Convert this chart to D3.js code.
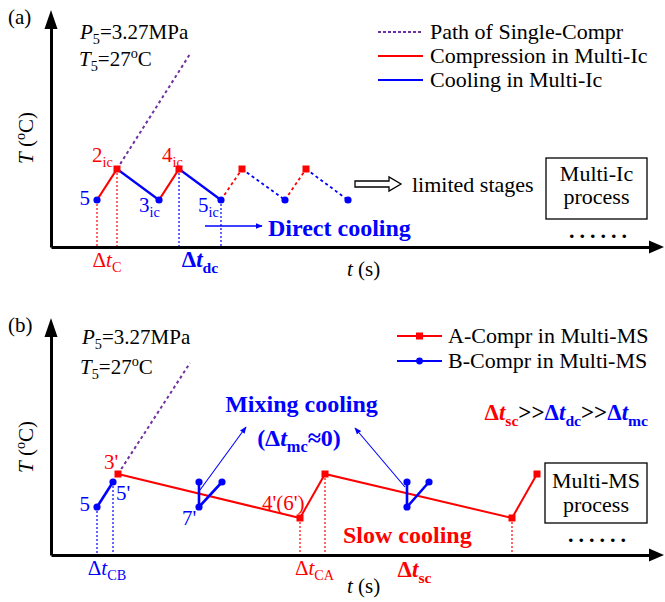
<!DOCTYPE html>
<html>
<head>
<meta charset="utf-8">
<script src="https://cdn.jsdelivr.net/npm/d3@7"></script>
<style>
  body { margin: 0; background: #fff; }
  svg { display: block; }
  svg text, svg tspan { font-family: "Liberation Serif", "Times New Roman", serif; }
</style>
</head>
<body>
<svg id="chart" width="665" height="602"></svg>
<script>
const RED = "#ff0000", BLUE = "#0000ff", PURPLE = "#7030a0";
const FONT = "Liberation Serif";

// ---- Panel (a): multi-stage inter-cooled compression ----
// alternating cooled (valley) and compressed (peak) states
const icTimes = [4.6, 6.6, 10.8, 12.8, 17.0, 19.1, 23.4, 25.5, 29.7];
const icTemps = [4.7, 7.8, 4.7, 7.8, 4.7, 7.8, 4.7, 7.8, 4.7];
const icLabels = ["5", "2", "3", "4", "5", "", "", "", ""];
const icSolidSegments = 4;          // later segments are the repeated (dashed) stages
// single-stage compression continuing from 2ic
const singleTimesA = [6.6, 13.9];
const singleTempsA = [7.8, 19.3];
const legendA = ["Path of Single-Compr", "Compression in Multi-Ic", "Cooling in Multi-Ic"];

// ---- Panel (b): multi-stage mixing (A / B compressors) ----
const msATimes = [6.7, 24.9, 27.4, 46.1, 48.6];
const msATemps = [8.1, 3.7, 8.1, 3.7, 8.1];
const msALabels = ["3'", "4'(6')", "", "", ""];
const msBTimes = [[4.6, 6.2], [14.8, 14.8, 17.1], [35.6, 35.6, 37.8]];
const msBTemps = [[4.8, 7.3], [7.3, 4.8, 7.3], [7.3, 4.8, 7.3]];
const singleTimesB = [6.7, 13.9];
const singleTempsB = [8.1, 19.2];
const legendB = ["A-Compr in Multi-MS", "B-Compr in Multi-MS"];

const svg = d3.select("#chart");

// arrow heads for thin annotation arrows
const defs = svg.append("defs");
defs.append("marker").attr("id", "arrBlue")
  .attr("viewBox", "0 0 10 10").attr("refX", 9).attr("refY", 5)
  .attr("markerWidth", 7).attr("markerHeight", 7).attr("markerUnits", "userSpaceOnUse")
  .attr("orient", "auto")
  .append("path").attr("d", "M0,1 L10,5 L0,9 Z").attr("fill", BLUE);

// rich text helper: parts may be subscript, superscript, italic or coloured
function rich(sel, x, y, parts, o = {}) {
  const fs = o.size || 22;
  const t = sel.append("text").attr("x", x).attr("y", y)
    .attr("font-family", FONT)
    .attr("font-size", fs)
    .attr("fill", o.color || "#000")
    .attr("text-anchor", o.anchor || "start");
  if (o.bold) t.attr("font-weight", "bold");
  if (o.transform) t.attr("transform", o.transform);
  let cur = 0;
  parts.forEach(p => {
    if (typeof p === "string") p = { s: p };
    const off = p.sub ? 0.25 * fs : p.sup ? -0.38 * fs : 0;
    const sp = t.append("tspan").text(p.s);
    if (off - cur !== 0) sp.attr("dy", off - cur);
    cur = off;
    if (p.sub || p.sup) sp.attr("font-size", fs * 0.68);
    if (p.i) sp.attr("font-style", "italic");
    if (p.color) sp.attr("fill", p.color);
  });
  return t;
}

const x = d3.scaleLinear().domain([0, 60]).range([0, 600]);
const y = d3.scaleLinear().domain([0, 22]).range([0, -220]);
const line = d3.line().x(d => x(d[0])).y(d => y(d[1]));
const zip = (ts, vs) => ts.map((t, i) => [t, vs[i]]);

function drawAxes(g) {
  g.append("g").call(d3.axisBottom(x).tickValues([]).tickSizeOuter(0))
    .select(".domain").attr("stroke", "#000").attr("stroke-width", 3);
  g.append("g").call(d3.axisLeft(y).tickValues([]).tickSizeOuter(0))
    .select(".domain").attr("stroke", "#000").attr("stroke-width", 3);
  // arrow tips
  g.append("path").attr("d", `M${x(59.8)},-6.5 L${x(61.3)},0 L${x(59.8)},6.5 Z`).attr("fill", "#000");
  g.append("path").attr("d", `M-6.5,${y(21.8)} L0,${y(23.7)} L6.5,${y(21.8)} Z`).attr("fill", "#000");
}

function square(g, p, color) {
  g.append("rect").attr("x", x(p[0]) - 3.5).attr("y", y(p[1]) - 3.5)
    .attr("width", 7).attr("height", 7).attr("fill", color);
}
function dot(g, p, color) {
  g.append("circle").attr("cx", x(p[0])).attr("cy", y(p[1])).attr("r", 3.6).attr("fill", color);
}
function drop(g, p, color) {
  g.append("line").attr("x1", x(p[0])).attr("x2", x(p[0]))
    .attr("y1", y(p[1])).attr("y2", 0)
    .attr("stroke", color).attr("stroke-width", 1.2).attr("stroke-dasharray", "2,2");
}
function dots(xp, yp) {
  svg.append("text").attr("x", xp).attr("y", yp)
    .attr("font-family", FONT)
    .attr("font-size", 22).attr("font-weight", "bold")
    .attr("letter-spacing", 5).text("......");
}

// ================= Panel (a) =================
const gA = svg.append("g").attr("transform", "translate(51,247)");
const ptsA = zip(icTimes, icTemps);

rich(svg, 8, 24, ["(a)"], { size: 21 });
rich(svg, 80, 38.5, [{ s: "P", i: true }, { s: "5", sub: true }, "=3.27MPa"], { size: 21 });
rich(svg, 79, 66, [{ s: "T", i: true }, { s: "5", sub: true }, "=27", { s: "o", sup: true }, "C"], { size: 21 });
rich(svg, 33, 138, [{ s: "T", i: true }, " (", { s: "o", sup: true }, "C)"],
  { anchor: "middle", transform: "rotate(-90,33,138)", size: 21 });
rich(svg, 347, 276, [{ s: "t", i: true }, " (s)"], { size: 21 });

// drop lines to the time axis
drop(gA, ptsA[0], RED); drop(gA, ptsA[1], RED);
drop(gA, ptsA[3], BLUE); drop(gA, ptsA[4], BLUE);

// single-stage path
gA.append("path").attr("d", line(zip(singleTimesA, singleTempsA)))
  .attr("fill", "none").attr("stroke", PURPLE).attr("stroke-width", 2).attr("stroke-dasharray", "3,3");

// compression (rising, red) and cooling (falling, blue) segments
for (let i = 0; i < ptsA.length - 1; i++) {
  const rising = ptsA[i + 1][1] > ptsA[i][1];
  const dashed = i >= icSolidSegments;
  gA.append("path").attr("d", line([ptsA[i], ptsA[i + 1]]))
    .attr("fill", "none").attr("stroke", rising ? RED : BLUE)
    .attr("stroke-width", dashed ? 1.8 : 2.2)
    .attr("stroke-dasharray", dashed ? "3,3" : null);
}
ptsA.forEach((p, i) => (i % 2 ? square(gA, p, RED) : dot(gA, p, BLUE)));

// state labels
const labOffA = [[-7, 5, "end"], [-25, -7], [-20, 12], [-17, -7], [-23, 12]];
icLabels.forEach((s, i) => {
  if (!s) return;
  const o = labOffA[i];
  const col = i % 2 ? RED : BLUE;
  const parts = i === 0 ? [s] : [s, { s: "ic", sub: true }];
  rich(gA, x(ptsA[i][0]) + o[0], y(ptsA[i][1]) + o[1], parts, { color: col, anchor: o[2] || "start", size: 21 });
});

// interval labels under the axis
rich(gA, (x(ptsA[0][0]) + x(ptsA[1][0])) / 2, 20, ["Δ", { s: "t", i: true }, { s: "C", sub: true }],
  { color: RED, anchor: "middle", size: 21 });
rich(gA, (x(ptsA[3][0]) + x(ptsA[4][0])) / 2, 20, ["Δ", { s: "t", i: true }, { s: "dc", sub: true }],
  { color: BLUE, anchor: "middle", bold: true, size: 23 });

// direct cooling note
gA.append("line").attr("x1", x(15.4)).attr("x2", x(21.1)).attr("y1", -21).attr("y2", -21)
  .attr("stroke", BLUE).attr("stroke-width", 1.4).attr("marker-end", "url(#arrBlue)");
rich(svg, 268, 236, ["Direct cooling"], { color: BLUE, bold: true, size: 24 });

// "limited stages" with hollow arrow
svg.append("path")
  .attr("d", "M355,181 H389 V177 L401,184 L389,191 V187 H355 Z")
  .attr("fill", "#fff").attr("stroke", "#000").attr("stroke-width", 1.3);
rich(svg, 412, 192, ["limited stages"]);

// process box
svg.append("rect").attr("x", 546).attr("y", 158).attr("width", 101).attr("height", 61)
  .attr("fill", "none").attr("stroke", "#000").attr("stroke-width", 1.3);
rich(svg, 596.5, 181, ["Multi-Ic"], { anchor: "middle" });
rich(svg, 596.5, 204, ["process"], { anchor: "middle" });
dots(569, 238);

// legend (a)
const legStyles = [[PURPLE, "3,2", 1.8], [RED, null, 2], [BLUE, null, 2]];
legendA.forEach((s, i) => {
  const ly = 32 + i * 24;
  svg.append("line").attr("x1", 378).attr("x2", 423).attr("y1", ly).attr("y2", ly)
    .attr("stroke", legStyles[i][0]).attr("stroke-width", legStyles[i][2])
    .attr("stroke-dasharray", legStyles[i][1]);
  rich(svg, 430, ly + 6.5, [s]);
});

drawAxes(gA);

// ================= Panel (b) =================
const gB = svg.append("g").attr("transform", "translate(51,555)");
const ptsB = zip(msATimes, msATemps);
const grpB = msBTimes.map((ts, k) => zip(ts, msBTemps[k]));

rich(svg, 8, 332, ["(b)"], { size: 21 });
rich(svg, 82, 344, [{ s: "P", i: true }, { s: "5", sub: true }, "=3.27MPa"], { size: 21 });
rich(svg, 80, 374, [{ s: "T", i: true }, { s: "5", sub: true }, "=27", { s: "o", sup: true }, "C"], { size: 21 });
rich(svg, 33, 447, [{ s: "T", i: true }, " (", { s: "o", sup: true }, "C)"],
  { anchor: "middle", transform: "rotate(-90,33,447)", size: 21 });
rich(svg, 347, 593, [{ s: "t", i: true }, " (s)"], { size: 21 });

drop(gB, grpB[0][0], BLUE); drop(gB, grpB[0][1], BLUE);
drop(gB, ptsB[1], RED); drop(gB, ptsB[2], RED); drop(gB, ptsB[3], RED);

gB.append("path").attr("d", line(zip(singleTimesB, singleTempsB)))
  .attr("fill", "none").attr("stroke", PURPLE).attr("stroke-width", 2).attr("stroke-dasharray", "3,3");

gB.append("path").attr("d", line(ptsB)).attr("fill", "none").attr("stroke", RED).attr("stroke-width", 2);
ptsB.forEach(p => square(gB, p, RED));

grpB.forEach(pts => {
  gB.append("path").attr("d", line(pts)).attr("fill", "none").attr("stroke", BLUE).attr("stroke-width", 2.6);
  pts.forEach(p => dot(gB, p, BLUE));
});

// state labels
rich(gB, x(ptsB[0][0]) - 14, y(ptsB[0][1]) - 5, [msALabels[0]], { color: RED, size: 21 });
rich(gB, x(ptsB[1][0]) - 38, y(ptsB[1][1]) - 8, [msALabels[1]], { color: RED, size: 21 });
rich(gB, x(grpB[0][0][0]) - 7, y(grpB[0][0][1]) + 4, ["5"], { color: BLUE, anchor: "end", size: 21 });
rich(gB, x(grpB[0][1][0]) + 3, y(grpB[0][1][1]) + 18, ["5'"], { color: BLUE, size: 21 });
rich(gB, x(grpB[1][1][0]) - 17, y(grpB[1][1][1]) + 18, ["7'"], { color: BLUE, size: 21 });

// interval labels
rich(gB, (x(grpB[0][0][0]) + x(grpB[0][1][0])) / 2 + 2, 20, ["Δ", { s: "t", i: true }, { s: "CB", sub: true }],
  { color: BLUE, anchor: "middle", size: 21 });
rich(gB, (x(ptsB[1][0]) + x(ptsB[2][0])) / 2 + 2, 20, ["Δ", { s: "t", i: true }, { s: "CA", sub: true }],
  { color: RED, anchor: "middle", size: 21 });
rich(gB, (x(ptsB[2][0]) + x(ptsB[3][0])) / 2 - 4, 22, ["Δ", { s: "t", i: true }, { s: "sc", sub: true }],
  { color: RED, anchor: "middle", bold: true, size: 23 });

// mixing cooling note with arrows to the two mixing events
rich(svg, 301.5, 412, ["Mixing cooling"], { color: BLUE, bold: true, size: 24, anchor: "middle" });
rich(svg, 299, 446, ["(Δ", { s: "t", i: true }, { s: "mc", sub: true }, "≈0)"],
  { color: BLUE, bold: true, size: 24, anchor: "middle" });
gB.append("line").attr("x1", x(14.9)).attr("y1", y(6.5)).attr("x2", x(19.5)).attr("y2", y(12.8))
  .attr("stroke", BLUE).attr("stroke-width", 1.1).attr("marker-end", "url(#arrBlue)");
gB.append("line").attr("x1", x(35.4)).attr("y1", y(6.8)).attr("x2", x(30.4)).attr("y2", y(12.7))
  .attr("stroke", BLUE).attr("stroke-width", 1.1).attr("marker-end", "url(#arrBlue)");

rich(svg, 343, 543, ["Slow cooling"], { color: RED, bold: true, size: 24 });

rich(svg, 648, 420, [
  { s: "Δ", color: RED }, { s: "t", i: true, color: RED }, { s: "sc", sub: true, color: RED },
  ">>",
  { s: "Δ", color: BLUE }, { s: "t", i: true, color: BLUE }, { s: "dc", sub: true, color: BLUE },
  ">>",
  { s: "Δ", color: BLUE }, { s: "t", i: true, color: BLUE }, { s: "mc", sub: true, color: BLUE }
], { bold: true, size: 23, anchor: "end" });

svg.append("rect").attr("x", 545).attr("y", 463).attr("width", 102).attr("height", 60)
  .attr("fill", "none").attr("stroke", "#000").attr("stroke-width", 1.3);
rich(svg, 596, 488, ["Multi-MS"], { anchor: "middle" });
rich(svg, 596, 512, ["process"], { anchor: "middle" });
dots(568, 542);

// legend (b) with markers
legendB.forEach((s, i) => {
  const ly = 336 + i * 25;
  const col = i ? BLUE : RED;
  svg.append("line").attr("x1", 397).attr("x2", 442).attr("y1", ly).attr("y2", ly)
    .attr("stroke", col).attr("stroke-width", 2);
  if (i) svg.append("circle").attr("cx", 419.5).attr("cy", ly).attr("r", 3.4).attr("fill", col);
  else svg.append("rect").attr("x", 416).attr("y", ly - 3.5).attr("width", 7).attr("height", 7).attr("fill", col);
  rich(svg, 448, ly + 7, [s]);
});

drawAxes(gB);
</script>
</body>
</html>
